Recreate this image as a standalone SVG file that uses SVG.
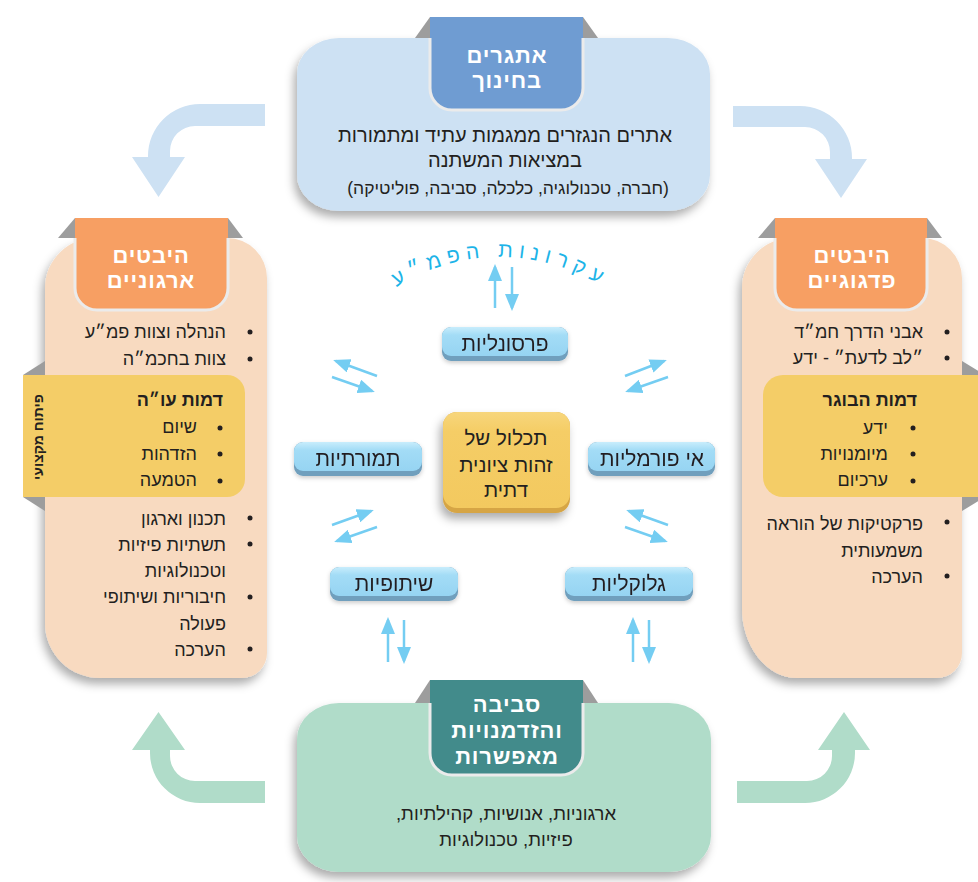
<svg xmlns="http://www.w3.org/2000/svg" width="978" height="882" viewBox="0 0 978 882">
<defs>
<style>
.t{font-family:"Liberation Sans","DejaVu Sans",sans-serif;direction:rtl;fill:#231f20}
.b{font-size:18px}
.r{text-anchor:start}
.c{text-anchor:middle}
.h{font-weight:bold}
.ti{font-family:"Liberation Sans","DejaVu Sans",sans-serif;direction:rtl;font-size:22px;font-weight:bold;fill:#fff;text-anchor:middle;letter-spacing:0.8px}
.pill{font-family:"Liberation Sans","DejaVu Sans",sans-serif;direction:rtl;font-size:21px;fill:#231f20;text-anchor:middle}
.fold{fill:#9d9d9d}
.tabedge{fill:none;stroke:#ebebeb;stroke-width:3}
.sa{stroke:#74cdf2;stroke-width:2.5;fill:none;marker-end:url(#ah)}
.dot{fill:#231f20}
</style>
<filter id="sh" x="-15%" y="-15%" width="130%" height="135%">
<feDropShadow dx="-3" dy="6" stdDeviation="5" flood-color="#000" flood-opacity="0.32"/>
</filter>
<filter id="sh2" x="-20%" y="-30%" width="140%" height="170%">
<feDropShadow dx="0" dy="2" stdDeviation="2" flood-color="#000" flood-opacity="0.2"/>
</filter>
<linearGradient id="pg" x1="0" y1="0" x2="0" y2="1">
<stop offset="0" stop-color="#c8edfc"/>
<stop offset="0.28" stop-color="#a3dcf6"/>
<stop offset="1" stop-color="#96d4f2"/>
</linearGradient>
<linearGradient id="yg" x1="0" y1="0" x2="0" y2="1">
<stop offset="0" stop-color="#f7d67c"/>
<stop offset="0.2" stop-color="#f5cd66"/>
<stop offset="1" stop-color="#f3c95f"/>
</linearGradient>
<marker id="ah" markerUnits="userSpaceOnUse" markerWidth="18" markerHeight="14" refX="14" refY="7" orient="auto">
<path d="M0,0 L17,7 L0,14 Z" fill="#74cdf2"/>
</marker>
</defs>
<rect width="978" height="882" fill="#fff"/>

<g id="connectors">
<path d="M265,104 H200 A52,52 0 0 0 148,156 V157 H132 L158.5,197 L185,157 H170 V151 A25,25 0 0 1 195,126 H265 Z" fill="#cde1f3"/>
<path d="M733,106 H800 A52,52 0 0 1 852,158 V159 H867 L841,198 L815,159 H830 V152 A25,25 0 0 0 805,127 H733 Z" fill="#cde1f3"/>
<path d="M265,803 H200 A50,50 0 0 1 150,753 V750 H132 L158.5,712 L185,750 H170 V756 A25,25 0 0 0 195,781 H265 Z" fill="#b0dcc9"/>
<path d="M737,803 H805 A50,50 0 0 0 855,753 V750 H870 L844,712 L818,750 H832 V756 A25,25 0 0 1 807,781 H737 Z" fill="#b0dcc9"/>
<line class="sa" x1="495" y1="308" x2="495" y2="267"/>
<line class="sa" x1="512" y1="267" x2="512" y2="308"/>
<line class="sa" x1="388" y1="662" x2="388" y2="620"/>
<line class="sa" x1="404" y1="620" x2="404" y2="661"/>
<line class="sa" x1="633" y1="662" x2="633" y2="620"/>
<line class="sa" x1="649" y1="620" x2="649" y2="661"/>
<line class="sa" x1="377" y1="376" x2="336" y2="361"/>
<line class="sa" x1="332" y1="377" x2="372" y2="391"/>
<line class="sa" x1="625" y1="376" x2="664" y2="361"/>
<line class="sa" x1="668" y1="377" x2="628" y2="391"/>
<line class="sa" x1="332" y1="525" x2="371" y2="511"/>
<line class="sa" x1="377" y1="527" x2="337" y2="541"/>
<line class="sa" x1="668" y1="525" x2="629" y2="511"/>
<line class="sa" x1="625" y1="527" x2="665" y2="541"/>
</g>

<g id="node-top">
<rect x="297" y="38" width="413" height="173" rx="42" ry="36" fill="#cde1f3" filter="url(#sh)"/>
<polygon class="fold" points="415,38 430,17 430,38"/>
<polygon class="fold" points="583,17 598,38 583,38"/>
<path d="M430,17 H583 V88 A22,22 0 0 1 561,110 H452 A22,22 0 0 1 430,88 Z" fill="#6f9cd2"/>
<path class="tabedge" d="M430,38 V88 A22,22 0 0 0 452,110 H561 A22,22 0 0 0 583,88 V38"/>
<text class="ti" x="507" y="63">אתגרים</text>
<text class="ti" x="507" y="88">בחינוך</text>
<text class="t c" x="505" y="142" font-size="20">אתרים הנגזרים ממגמות עתיד ומתמורות</text>
<text class="t c" x="505" y="167" font-size="20">במציאות המשתנה</text>
<text class="t c" x="508" y="194" font-size="17.5">(חברה, טכנולוגיה, כלכלה, סביבה, פוליטיקה)</text>
</g>

<g id="node-left">
<path d="M95,238 H227 A40,40 0 0 1 267,278 V653 A25,25 0 0 1 242,678 H100 A55,55 0 0 1 45,623 V288 A50,50 0 0 1 95,238 Z" fill="#f8dac0" filter="url(#sh)"/>
<polygon class="fold" points="58,238 75,218 75,238"/>
<polygon class="fold" points="228,218 243,238 228,238"/>
<path d="M75,218 H228 V288 A22,22 0 0 1 206,310 H97 A22,22 0 0 1 75,288 Z" fill="#f79f63"/>
<path class="tabedge" d="M75,238 V288 A22,22 0 0 0 97,310 H206 A22,22 0 0 0 228,288 V238"/>
<text class="ti" x="151" y="263">היבטים</text>
<text class="ti" x="151" y="288">ארגוניים</text>
<text class="t b r" x="226" y="338">הנהלה וצוות פמ״ע</text>
<circle class="dot" cx="250" cy="332" r="2.5"/>
<text class="t b r" x="226" y="365">צוות בחכמ״ה</text>
<circle class="dot" cx="250" cy="359" r="2.5"/>
<polygon class="fold" points="23,375 45,361 45,375"/>
<polygon class="fold" points="23,497 45,511 45,497"/>
<path d="M23,375 H227 A18,18 0 0 1 245,393 V479 A18,18 0 0 1 227,497 H23 Z" fill="#f4cd67"/>
<text class="t h r" x="223" y="406" font-size="18">דמות עו״ה</text>
<text class="t b r" x="197" y="433">שיום</text>
<circle class="dot" cx="220" cy="428" r="2.5"/>
<text class="t b r" x="197" y="460">הזדהות</text>
<circle class="dot" cx="220" cy="454" r="2.5"/>
<text class="t b r" x="197" y="486">הטמעה</text>
<circle class="dot" cx="220" cy="481" r="2.5"/>
<text class="t h c" x="0" y="0" font-size="14" transform="translate(43,437) rotate(-90)">פיתוח מקצועי</text>
<text class="t b r" x="226" y="525">תכנון וארגון</text>
<circle class="dot" cx="250" cy="518" r="2.5"/>
<text class="t b r" x="226" y="551">תשתיות פיזיות</text>
<circle class="dot" cx="250" cy="544" r="2.5"/>
<text class="t b r" x="226" y="577">וטכנולוגיות</text>
<text class="t b r" x="226" y="603">חיבוריות ושיתופי</text>
<circle class="dot" cx="250" cy="597" r="2.5"/>
<text class="t b r" x="226" y="630">פעולה</text>
<text class="t b r" x="226" y="656">הערכה</text>
<circle class="dot" cx="250" cy="649" r="2.5"/>
</g>

<g id="node-right">
<path d="M792,238 H922 A40,40 0 0 1 962,278 V653 A25,25 0 0 1 937,678 H797 A55,70 0 0 1 742,608 V288 A50,50 0 0 1 792,238 Z" fill="#f8dac0" filter="url(#sh)"/>
<polygon class="fold" points="758,238 775,218 775,238"/>
<polygon class="fold" points="927,218 942,238 927,238"/>
<path d="M775,218 H927 V288 A22,22 0 0 1 905,310 H797 A22,22 0 0 1 775,288 Z" fill="#f79f63"/>
<path class="tabedge" d="M775,238 V288 A22,22 0 0 0 797,310 H905 A22,22 0 0 0 927,288 V238"/>
<text class="ti" x="852" y="263">היבטים</text>
<text class="ti" x="852" y="288">פדגוגיים</text>
<text class="t b r" x="923" y="338">אבני הדרך חמ״ד</text>
<circle class="dot" cx="947" cy="332" r="2.5"/>
<text class="t b r" x="923" y="364">״לב לדעת״ - ידע</text>
<circle class="dot" cx="947" cy="358" r="2.5"/>
<polygon class="fold" points="962,361 962,375 985,375"/>
<polygon class="fold" points="962,511 962,497 985,497"/>
<path d="M990,375 H783 A20,20 0 0 0 763,395 V477 A20,20 0 0 0 783,497 H990 Z" fill="#f4cd67"/>
<text class="t h r" x="917" y="406" font-size="18">דמות הבוגר</text>
<text class="t b r" x="888" y="434">ידע</text>
<circle class="dot" cx="913" cy="428" r="2.5"/>
<text class="t b r" x="888" y="460">מיומנויות</text>
<circle class="dot" cx="913" cy="454" r="2.5"/>
<text class="t b r" x="888" y="486">ערכיום</text>
<circle class="dot" cx="913" cy="481" r="2.5"/>
<text class="t b r" x="923" y="530">פרקטיקות של הוראה</text>
<circle class="dot" cx="947" cy="522" r="2.5"/>
<text class="t b r" x="923" y="557">משמעותית</text>
<text class="t b r" x="923" y="583">הערכה</text>
<circle class="dot" cx="947" cy="576" r="2.5"/>
</g>

<g id="node-bottom">
<rect x="297" y="703" width="414" height="169" rx="42" ry="36" fill="#b0dcc9" filter="url(#sh)"/>
<polygon class="fold" points="415,703 430,680 430,703"/>
<polygon class="fold" points="583,680 598,703 583,703"/>
<path d="M430,680 H583 V753 A22,22 0 0 1 561,775 H452 A22,22 0 0 1 430,753 Z" fill="#428b8b"/>
<path class="tabedge" d="M430,703 V753 A22,22 0 0 0 452,775 H561 A22,22 0 0 0 583,753 V703"/>
<text class="ti" x="507" y="712">סביבה</text>
<text class="ti" x="507" y="738">והזדמנויות</text>
<text class="ti" x="507" y="764">מאפשרות</text>
<text class="t c" x="506" y="820" font-size="18.5">ארגוניות, אנושיות, קהילתיות,</text>
<text class="t c" x="506" y="846" font-size="18.5">פיזיות, טכנולוגיות</text>
</g>

<g id="label-arc">
<path id="arc" d="M380,298.8 A193,193 0 0 1 620,298.8" fill="none"/>
<text font-family="Liberation Sans, DejaVu Sans, sans-serif" font-size="21" fill="#1db4e8" letter-spacing="6" text-anchor="middle" style="direction:rtl"><textPath href="#arc" startOffset="50%">עקרונות הפמ״ע</textPath></text>
</g>

<g id="node-personaliut" filter="url(#sh2)">
<rect x="442" y="327" width="126" height="34" rx="9" fill="#6f9fbd"/>
<rect x="442" y="327" width="126" height="29" rx="9" fill="url(#pg)"/>
<text class="pill" x="505" y="351">פרסונליות</text>
</g>
<g id="node-tmurtiut" filter="url(#sh2)">
<rect x="294" y="442" width="128" height="34" rx="9" fill="#6f9fbd"/>
<rect x="294" y="442" width="128" height="29" rx="9" fill="url(#pg)"/>
<text class="pill" x="358" y="466">תמורתיות</text>
</g>
<g id="node-informaliut" filter="url(#sh2)">
<rect x="588" y="442" width="127" height="34" rx="9" fill="#6f9fbd"/>
<rect x="588" y="442" width="127" height="29" rx="9" fill="url(#pg)"/>
<text class="pill" x="652" y="466">אי פורמליות</text>
</g>
<g id="node-shitufiut" filter="url(#sh2)">
<rect x="330" y="567" width="128" height="34" rx="9" fill="#6f9fbd"/>
<rect x="330" y="567" width="128" height="29" rx="9" fill="url(#pg)"/>
<text class="pill" x="394" y="591">שיתופיות</text>
</g>
<g id="node-glokaliut" filter="url(#sh2)">
<rect x="565" y="567" width="128" height="34" rx="9" fill="#6f9fbd"/>
<rect x="565" y="567" width="128" height="29" rx="9" fill="url(#pg)"/>
<text class="pill" x="629" y="591">גלוקליות</text>
</g>

<g id="node-center">
<g filter="url(#sh)">
<rect x="443" y="412" width="127" height="101" rx="14" fill="#d6a545"/>
</g>
<rect x="443" y="412" width="127" height="96" rx="14" fill="url(#yg)"/>
<text class="t c" x="506" y="445" font-size="20.5">תכלול של</text>
<text class="t c" x="506" y="472" font-size="20.5">זהות ציונית</text>
<text class="t c" x="506" y="497" font-size="20.5">דתית</text>
</g>
</svg>
